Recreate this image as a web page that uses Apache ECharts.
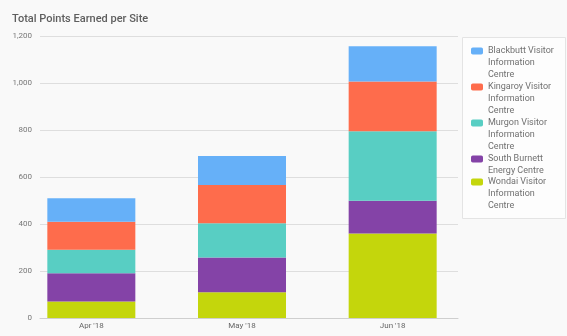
<!DOCTYPE html>
<html>
<head>
<meta charset="utf-8">
<script src="https://cdn.jsdelivr.net/npm/echarts@6/dist/echarts.min.js"></script>
<style>
  html, body { margin: 0; padding: 0; background: #f9f9f9; }
  #chart { width: 567px; height: 336px; }
</style>
</head>
<body>
<div id="chart"></div>
<script>
// Monthly points per visitor site (stacked, bottom to top)
const months = ["Apr '18", "May '18", "Jun '18"];
const wondai = [70, 110, 360];
const southBurnett = [120, 147, 139];
const murgon = [100, 146, 296];
const kingaroy = [120, 163, 211];
const blackbutt = [100, 123, 150];
const yTicks = { min: 0, max: 1200, interval: 200 };

const sites = [
  { name: 'Wondai Visitor Information Centre', label: 'Wondai Visitor\nInformation\nCentre', data: wondai, color: '#c4d60c' },
  { name: 'South Burnett Energy Centre', label: 'South Burnett\nEnergy Centre', data: southBurnett, color: '#8443a7' },
  { name: 'Murgon Visitor Information Centre', label: 'Murgon Visitor\nInformation\nCentre', data: murgon, color: '#58cec3' },
  { name: 'Kingaroy Visitor Information Centre', label: 'Kingaroy Visitor\nInformation\nCentre', data: kingaroy, color: '#fe6c4c' },
  { name: 'Blackbutt Visitor Information Centre', label: 'Blackbutt Visitor\nInformation\nCentre', data: blackbutt, color: '#66b0f8' }
];
const labelOf = {};
sites.forEach(s => { labelOf[s.name] = s.label; });

// Legend text is centred on its swatch; pad every label to five lines
// so the first real line lands beside the swatch.
function paddedLabel(name) {
  const text = labelOf[name];
  const lines = text.split('\n').length;
  return '\n\n' + text + (lines === 2 ? '\n' : '');
}

const legendBase = {
  orient: 'vertical',
  left: 471,
  padding: 0,
  itemWidth: 12,
  itemHeight: 7,
  itemGap: -24,
  icon: 'roundRect',
  textStyle: { fontFamily: 'Roboto', fontSize: 9, color: '#707070', lineHeight: 12 },
  formatter: paddedLabel
};

const chart = echarts.init(document.getElementById('chart'), null, { renderer: 'canvas' });
chart.setOption({
  backgroundColor: '#f9f9f9',
  animation: false,
  title: {
    text: 'Total Points Earned per Site',
    left: 7,
    top: 9,
    textStyle: { fontFamily: 'Roboto', fontSize: 11, fontWeight: 500, color: '#5e5e5e' }
  },
  graphic: [{
    type: 'rect',
    left: 462,
    top: 37,
    shape: { width: 103, height: 181 },
    style: { fill: '#fdfdfd', stroke: '#e4e4e4', lineWidth: 1 },
    z: -1
  }],
  legend: [
    Object.assign({}, legendBase, {
      top: 21,
      data: sites.slice(1).reverse().map(s => s.name)
    }),
    Object.assign({}, legendBase, {
      top: 152,
      data: [sites[0].name]
    })
  ],
  grid: [
    { left: 40, right: 109, top: 36, bottom: 18 },
    { left: 16, right: 99, top: 36, bottom: 18 }
  ],
  xAxis: [
    {
      gridIndex: 0, type: 'category', data: months,
      axisLine: { lineStyle: { color: '#cfcfcf' } },
      axisTick: { show: false }, axisLabel: { show: false }
    },
    {
      gridIndex: 1, type: 'category', data: months,
      axisLine: { show: false }, axisTick: { show: false },
      axisLabel: { fontFamily: 'Roboto', fontSize: 8, color: '#666', margin: 4 }
    }
  ],
  yAxis: [
    {
      gridIndex: 0, type: 'value', min: yTicks.min, max: yTicks.max, interval: yTicks.interval,
      axisLine: { show: false }, axisTick: { show: false },
      splitLine: { lineStyle: { color: '#dedede' } },
      axisLabel: {
        fontFamily: 'Roboto', fontSize: 8, color: '#777', margin: 8,
        formatter: v => v.toLocaleString('en-US')
      }
    },
    {
      gridIndex: 1, type: 'value', min: yTicks.min, max: yTicks.max, interval: yTicks.interval,
      show: false, splitLine: { show: false }
    }
  ],
  series: sites.map(s => ({
    name: s.name,
    type: 'bar',
    stack: 'points',
    xAxisIndex: 1,
    yAxisIndex: 1,
    barWidth: 88,
    data: s.data,
    itemStyle: { color: s.color }
  }))
});
</script>
</body>
</html>
